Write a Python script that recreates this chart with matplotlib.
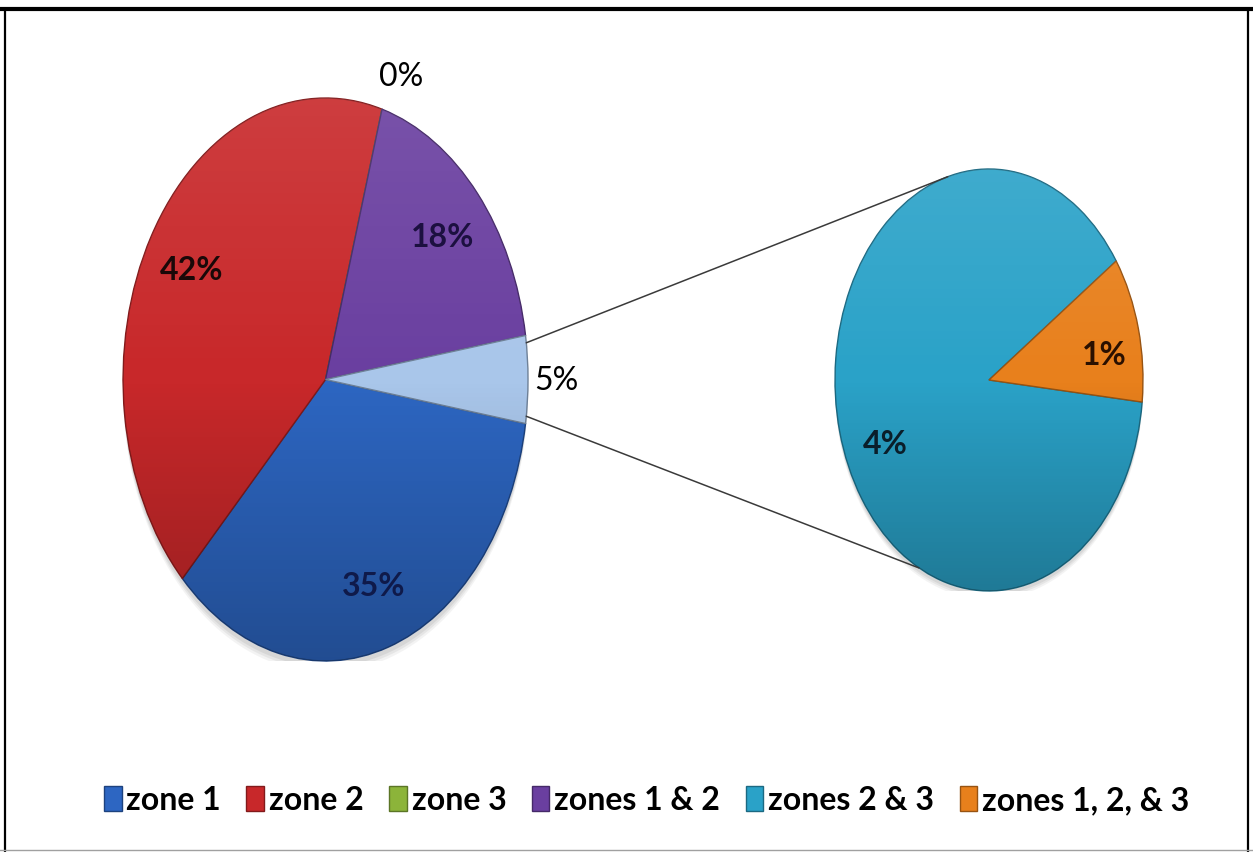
import matplotlib.pyplot as plt
import numpy as np
from matplotlib.lines import Line2D
from matplotlib.patches import ConnectionPatch, Patch

plt.rcParams['font.family'] = ['Lato', 'DejaVu Sans']

# main pie (clockwise from the split-off slice)
main_labels = ['zone 1', 'zone 2', 'zone 3', 'zones 1 & 2', 'other']
main_values = [35, 42, 0, 18, 5]
main_colors = ['#2d66c2', '#c8282a', '#8cb43a', '#6a3fa0', '#a9c6ea']
main_text = ['#0f1a4a', '#1a0808', '#000000', '#1c1040', '#000000']

# secondary pie breaks down "other"
sub_labels = ['zones 2 & 3', 'zones 1, 2, & 3']
sub_values = [4.44, 0.56]
sub_colors = ['#2aa2c8', '#e8801c']
sub_text = ['#0a1e2a', '#2a1000']


def darker(c, f=0.65):
    r, g, b = plt.matplotlib.colors.to_rgb(c)
    return (r * f, g * f, b * f)


def shade(ax, wedges):
    # soft top-light / bottom-dark gradient inside every wedge
    n = 256
    t = np.linspace(0, 1, n)[:, None]
    img = np.zeros((n, 2, 4))
    top = np.clip(1 - t * 2, 0, 1)
    bot = np.clip(t * 2 - 1, 0, 1)
    img[..., :3] = (top > 0)[..., None] * 1.0
    img[..., 3] = (top * 0.10 + bot * 0.25)[:, :1].repeat(2, 1)
    for w in wedges:
        im = ax.imshow(img, extent=(-1, 1, -1, 1), aspect='auto',
                       zorder=w.get_zorder() + 0.1, interpolation='bilinear')
        im.set_clip_path(w)


def pie_shadow(ax):
    th = np.linspace(0, 2 * np.pi, 200)
    for k, a in zip([0.04, 0.03, 0.02], [0.07, 0.09, 0.11]):
        ax.fill(np.cos(th) * 1.0, np.sin(th) * 1.0 - k, color='#606060',
                alpha=a, lw=0, zorder=0)


fig = plt.figure(figsize=(12.53, 8.53), dpi=100)

ax1 = fig.add_axes([0.0982, 0.2239, 0.3232, 0.660])
ax2 = fig.add_axes([0.6664, 0.306, 0.2458, 0.4947])

w1, _ = ax1.pie(main_values, colors=main_colors, startangle=-9,
                counterclock=False, radius=1,
                wedgeprops=dict(linewidth=1.0))
for w, c in zip(w1, main_colors):
    w.set_edgecolor(darker(c))
    w.set_zorder(2)
shade(ax1, w1)
pie_shadow(ax1)

w2, _ = ax2.pie(sub_values, colors=sub_colors, startangle=-6,
                counterclock=False, radius=1,
                wedgeprops=dict(linewidth=1.0))
for w, c in zip(w2, sub_colors):
    w.set_edgecolor(darker(c))
    w.set_zorder(2)
shade(ax2, w2)
pie_shadow(ax2)

for ax in (ax1, ax2):
    ax.set_aspect('auto')
    ax.set_xlim(-1, 1)
    ax.set_ylim(-1, 1)
    ax.axis('off')


def put_label(ax, w, val, color, r, bold, dang=0):
    mid = np.deg2rad((w.theta1 + w.theta2) / 2 + dang)
    ax.text(r * np.cos(mid), r * np.sin(mid), f'{val:.0f}%', ha='center',
            va='center', fontsize=23, color=color, zorder=5,
            fontweight='bold' if bold else 'normal')


for w, v, c in zip(w1, main_values, main_text):
    if v >= 10:
        put_label(ax1, w, v, c, 0.77, True)
    else:
        # small slices get their labels outside the rim
        put_label(ax1, w, v, c, 1.14, False, dang=-3 if v == 0 else 0)
put_label(ax2, w2[0], sub_values[0], sub_text[0], 0.74, True, dang=10)
put_label(ax2, w2[1], sub_values[1], sub_text[1], 0.76, True, dang=-5)

# leader lines from the split slice to the secondary pie
other = w1[-1]
ends = [(other.theta2 - 1.5, 105.5), (other.theta1 + 1.5, -117)]
for a1, a2 in ends:
    p1 = (np.cos(np.deg2rad(a1)), np.sin(np.deg2rad(a1)))
    p2 = (np.cos(np.deg2rad(a2)), np.sin(np.deg2rad(a2)))
    con = ConnectionPatch(xyA=p1, coordsA=ax1.transData, xyB=p2,
                          coordsB=ax2.transData, color='#3a3a3a', lw=1.1,
                          zorder=1)
    fig.add_artist(con)

legend_colors = main_colors[:4] + sub_colors
handles = [Patch(facecolor=c, edgecolor=darker(c)) for c in legend_colors]
fig.legend(handles, main_labels[:4] + sub_labels, loc='center',
           bbox_to_anchor=(0.516, 0.061), ncol=6, frameon=False,
           prop=dict(family=['Lato', 'DejaVu Sans'], weight='bold', size=23),
           handlelength=0.55, handleheight=0.85, handletextpad=0.15,
           columnspacing=0.8)

# outer frame
fig.add_artist(Line2D([0, 1], [1 - 10 / 853] * 2, transform=fig.transFigure,
                      color='black', lw=3.0))
fig.add_artist(Line2D([5 / 1253] * 2, [0, 1 - 10 / 853],
                      transform=fig.transFigure, color='black', lw=1.6))
fig.add_artist(Line2D([1248 / 1253] * 2, [0, 1 - 10 / 853],
                      transform=fig.transFigure, color='black', lw=1.6))
fig.add_artist(Line2D([0, 1], [2 / 853] * 2, transform=fig.transFigure,
                      color='#a0a0a0', lw=1.0))

fig.savefig('out.png', dpi=100)
